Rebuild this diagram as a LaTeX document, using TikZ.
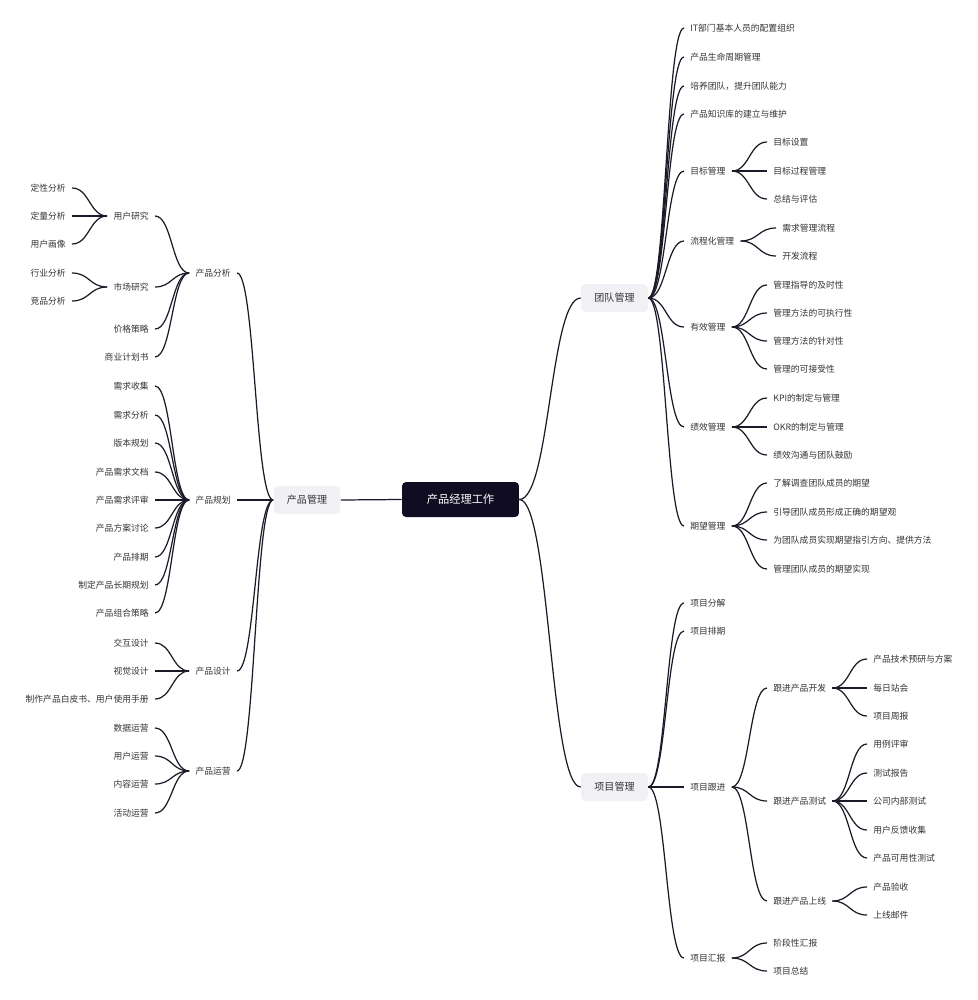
\documentclass[tikz,border=0pt]{standalone}
\usepackage{fontspec}
\setmainfont{Noto Sans CJK SC}
\usepackage{tikz}
\usetikzlibrary{calc}

\definecolor{rootfill}{HTML}{100D22}
\definecolor{topicfill}{HTML}{F1F1F5}
\definecolor{textgray}{HTML}{333333}
\definecolor{linedark}{HTML}{1A1A28}

\begin{document}
\begin{tikzpicture}[
    x=0.02cm, y=-0.02cm,
    root/.style={rectangle, rounded corners=2.3pt, fill=rootfill, text=white, minimum width=2.34cm, minimum height=0.7cm, font=\fontsize{6.4}{7.5}\selectfont},
    topic/.style={rectangle, rounded corners=2.8pt, fill=topicfill, text=textgray, minimum width=1.34cm, minimum height=0.56cm, font=\fontsize{5.7}{7}\selectfont},
    leaf/.style={inner xsep=0.12cm, inner ysep=1pt, text=textgray, font=\fontsize{5}{6}\selectfont},
    leafL/.style={leaf, anchor=east},
    leafR/.style={leaf, anchor=west},
    branch/.style={draw=linedark, line width=0.7pt, to path={let \p1=(\tikztostart), \p2=(\tikztotarget) in .. controls ({(\x1+\x2)/2}, \y1) and ({(\x1+\x2)/2}, \y2) .. (\tikztotarget)}}
]
\useasboundingbox (0,0) rectangle (977,1000);

% centre and main topics
\node[root] (root) at (460.5,499.5) {产品经理工作};
\node[topic] (prod) at (307,500) {产品管理};
\node[topic] (team) at (614.5,298) {团队管理};
\node[topic] (proj) at (614.5,787) {项目管理};

% product management (left)
\node[leafL] (analysis) at (237,273) {产品分析};
\node[leafL] (planning) at (237,500) {产品规划};
\node[leafL] (design) at (237,671) {产品设计};
\node[leafL] (operation) at (237,771) {产品运营};

\node[leafL] (userres) at (155,216) {用户研究};
\node[leafL] (market) at (155,287) {市场研究};
\node[leafL] (pricing) at (155,329) {价格策略};
\node[leafL] (bizplan) at (155,357) {商业计划书};

\node[leafL] (qualitative) at (72,188) {定性分析};
\node[leafL] (quantitative) at (72,216) {定量分析};
\node[leafL] (persona) at (72,244) {用户画像};
\node[leafL] (industry) at (72,273) {行业分析};
\node[leafL] (competitor) at (72,301) {竞品分析};

\node[leafL] (reqcollect) at (155,386) {需求收集};
\node[leafL] (reqanalysis) at (155,415) {需求分析};
\node[leafL] (version) at (155,443) {版本规划};
\node[leafL] (prd) at (155,472) {产品需求文档};
\node[leafL] (prdreview) at (155,500) {产品需求评审};
\node[leafL] (solution) at (155,528) {产品方案讨论};
\node[leafL] (schedule) at (155,557) {产品排期};
\node[leafL] (longterm) at (155,585) {制定产品长期规划};
\node[leafL] (portfolio) at (155,613) {产品组合策略};

\node[leafL] (interaction) at (155,643) {交互设计};
\node[leafL] (visual) at (155,671) {视觉设计};
\node[leafL] (manual) at (155,699) {制作产品白皮书、用户使用手册};

\node[leafL] (dataop) at (155,728) {数据运营};
\node[leafL] (userop) at (155,756) {用户运营};
\node[leafL] (contentop) at (155,784) {内容运营};
\node[leafL] (eventop) at (155,813) {活动运营};

% team management (right, top)
\node[leafR] (staffing) at (684,28) {IT部门基本人员的配置组织};
\node[leafR] (lifecycle) at (684,57) {产品生命周期管理};
\node[leafR] (training) at (684,86) {培养团队，提升团队能力};
\node[leafR] (knowledge) at (684,114) {产品知识库的建立与维护};
\node[leafR] (goal) at (684,171) {目标管理};
\node[leafR] (process) at (684,241) {流程化管理};
\node[leafR] (effective) at (684,327) {有效管理};
\node[leafR] (perf) at (684,427) {绩效管理};
\node[leafR] (expect) at (684,526) {期望管理};

\node[leafR] (goalset) at (767,142) {目标设置};
\node[leafR] (goalproc) at (767,171) {目标过程管理};
\node[leafR] (goalreview) at (767,199) {总结与评估};

\node[leafR] (reqflow) at (776,228) {需求管理流程};
\node[leafR] (devflow) at (776,256) {开发流程};

\node[leafR] (timely) at (767,285) {管理指导的及时性};
\node[leafR] (feasible) at (767,313) {管理方法的可执行性};
\node[leafR] (targeted) at (767,341) {管理方法的针对性};
\node[leafR] (accepted) at (767,369) {管理的可接受性};

\node[leafR] (kpi) at (767,398) {KPI的制定与管理};
\node[leafR] (okr) at (767,427) {OKR的制定与管理};
\node[leafR] (motivate) at (767,455) {绩效沟通与团队鼓励};

\node[leafR] (survey) at (767,483) {了解调查团队成员的期望};
\node[leafR] (guide) at (767,512) {引导团队成员形成正确的期望观};
\node[leafR] (direction) at (767,540) {为团队成员实现期望指引方向、提供方法};
\node[leafR] (realize) at (767,569) {管理团队成员的期望实现};

% project management (right, bottom)
\node[leafR] (split) at (684,603) {项目分解};
\node[leafR] (projsched) at (684,631) {项目排期};
\node[leafR] (follow) at (684,787) {项目跟进};
\node[leafR] (report) at (684,958) {项目汇报};

\node[leafR] (dev) at (767,688) {跟进产品开发};
\node[leafR] (test) at (767,801) {跟进产品测试};
\node[leafR] (launch) at (767,901) {跟进产品上线};

\node[leafR] (research) at (867,659) {产品技术预研与方案};
\node[leafR] (standup) at (867,688) {每日站会};
\node[leafR] (weekly) at (867,716) {项目周报};

\node[leafR] (casereview) at (867,744) {用例评审};
\node[leafR] (testreport) at (867,773) {测试报告};
\node[leafR] (internal) at (867,801) {公司内部测试};
\node[leafR] (feedback) at (867,830) {用户反馈收集};
\node[leafR] (usability) at (867,858) {产品可用性测试};

\node[leafR] (acceptance) at (867,887) {产品验收};
\node[leafR] (mail) at (867,915) {上线邮件};

\node[leafR] (stage) at (767,943) {阶段性汇报};
\node[leafR] (summary) at (767,971) {项目总结};

% connectors
\draw[branch] (root.west) to (prod.east);
\draw[branch] (root.east) to (team.west);
\draw[branch] (root.east) to (proj.west);

\draw[branch] (prod.west) to (analysis.east);
\draw[branch] (prod.west) to (planning.east);
\draw[branch] (prod.west) to (design.east);
\draw[branch] (prod.west) to (operation.east);

\draw[branch] (analysis.west) to (userres.east);
\draw[branch] (analysis.west) to (market.east);
\draw[branch] (analysis.west) to (pricing.east);
\draw[branch] (analysis.west) to (bizplan.east);
\draw[branch] (userres.west) to (qualitative.east);
\draw[branch] (userres.west) to (quantitative.east);
\draw[branch] (userres.west) to (persona.east);
\draw[branch] (market.west) to (industry.east);
\draw[branch] (market.west) to (competitor.east);

\draw[branch] (planning.west) to (reqcollect.east);
\draw[branch] (planning.west) to (reqanalysis.east);
\draw[branch] (planning.west) to (version.east);
\draw[branch] (planning.west) to (prd.east);
\draw[branch] (planning.west) to (prdreview.east);
\draw[branch] (planning.west) to (solution.east);
\draw[branch] (planning.west) to (schedule.east);
\draw[branch] (planning.west) to (longterm.east);
\draw[branch] (planning.west) to (portfolio.east);

\draw[branch] (design.west) to (interaction.east);
\draw[branch] (design.west) to (visual.east);
\draw[branch] (design.west) to (manual.east);

\draw[branch] (operation.west) to (dataop.east);
\draw[branch] (operation.west) to (userop.east);
\draw[branch] (operation.west) to (contentop.east);
\draw[branch] (operation.west) to (eventop.east);

\draw[branch] (team.east) to (staffing.west);
\draw[branch] (team.east) to (lifecycle.west);
\draw[branch] (team.east) to (training.west);
\draw[branch] (team.east) to (knowledge.west);
\draw[branch] (team.east) to (goal.west);
\draw[branch] (team.east) to (process.west);
\draw[branch] (team.east) to (effective.west);
\draw[branch] (team.east) to (perf.west);
\draw[branch] (team.east) to (expect.west);

\draw[branch] (goal.east) to (goalset.west);
\draw[branch] (goal.east) to (goalproc.west);
\draw[branch] (goal.east) to (goalreview.west);
\draw[branch] (process.east) to (reqflow.west);
\draw[branch] (process.east) to (devflow.west);
\draw[branch] (effective.east) to (timely.west);
\draw[branch] (effective.east) to (feasible.west);
\draw[branch] (effective.east) to (targeted.west);
\draw[branch] (effective.east) to (accepted.west);
\draw[branch] (perf.east) to (kpi.west);
\draw[branch] (perf.east) to (okr.west);
\draw[branch] (perf.east) to (motivate.west);
\draw[branch] (expect.east) to (survey.west);
\draw[branch] (expect.east) to (guide.west);
\draw[branch] (expect.east) to (direction.west);
\draw[branch] (expect.east) to (realize.west);

\draw[branch] (proj.east) to (split.west);
\draw[branch] (proj.east) to (projsched.west);
\draw[branch] (proj.east) to (follow.west);
\draw[branch] (proj.east) to (report.west);

\draw[branch] (follow.east) to (dev.west);
\draw[branch] (follow.east) to (test.west);
\draw[branch] (follow.east) to (launch.west);
\draw[branch] (dev.east) to (research.west);
\draw[branch] (dev.east) to (standup.west);
\draw[branch] (dev.east) to (weekly.west);
\draw[branch] (test.east) to (casereview.west);
\draw[branch] (test.east) to (testreport.west);
\draw[branch] (test.east) to (internal.west);
\draw[branch] (test.east) to (feedback.west);
\draw[branch] (test.east) to (usability.west);
\draw[branch] (launch.east) to (acceptance.west);
\draw[branch] (launch.east) to (mail.west);
\draw[branch] (report.east) to (stage.west);
\draw[branch] (report.east) to (summary.west);

\end{tikzpicture}
\end{document}
